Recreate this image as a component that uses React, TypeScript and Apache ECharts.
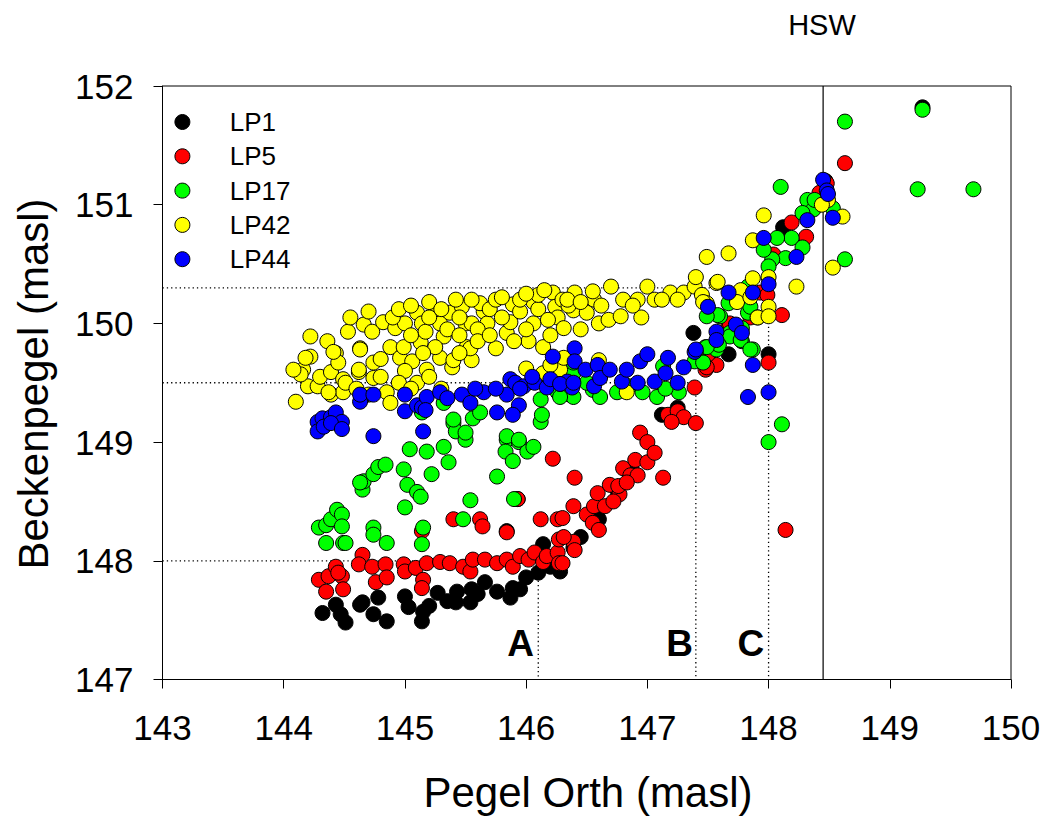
import React, { useEffect, useRef } from "react";
import * as echarts from "echarts";

const FONT = "'Liberation Sans', Arial, sans-serif";

const seriesNames = ["LP1", "LP5", "LP17", "LP42", "LP44"];
const seriesColors = ["#000000", "#ff0000", "#00ff00", "#ffff00", "#0000ff"];

const xTicks = { min: 143, max: 150, interval: 1 };
const yTicks = { min: 147, max: 152, interval: 1 };

const lp1: number[][] = [
  [144.32,147.56],[144.43,147.63],[144.51,147.48],[144.47,147.55],[144.63,147.63],[144.65,147.65],[144.74,147.55],[144.78,147.69],
  [144.85,147.49],[145.0,147.70],[145.03,147.61],[145.14,147.49],[145.15,147.57],[145.27,147.73],[145.35,147.66],[145.43,147.74],
  [145.42,147.65],[145.54,147.65],[145.55,147.76],[145.66,147.82],[145.76,147.74],[145.87,147.69],[145.89,147.77],[145.95,147.76],
  [146.0,147.86],[146.1,147.9],[146.14,148.14],[146.28,147.91],[146.39,148.11],[145.84,148.25],[145.93,148.52],[146.45,148.2],
  [146.6,148.35],[146.75,148.6],[146.88,148.75],[147.12,149.23],[147.25,149.29],[147.38,149.92],[147.67,149.74],[148.0,149.74],
  [148.12,150.81],[148.37,150.97],[148.47,151.2],[149.27,151.82],[145.2,147.62],[145.6,147.72],[146.2,147.95]
];

const lp5: number[][] = [
  [144.29,147.84],[144.35,147.74],[144.37,147.87],[144.43,147.95],[144.48,147.87],[144.49,147.76],[144.45,147.9],[144.65,148.05],
  [144.62,147.97],[144.73,147.95],[144.84,147.97],[144.76,147.82],[144.85,147.86],[144.99,147.97],[145.0,147.91],[145.09,147.94],
  [145.15,147.84],[145.14,147.77],[145.18,147.98],[145.29,147.99],[145.37,147.98],[145.48,147.95],[145.54,147.91],[145.56,148.01],
  [145.66,148.01],[145.76,147.98],[145.84,148.01],[145.89,147.95],[145.95,148.04],[146.02,148.01],[146.07,148.07],[146.14,147.99],
  [146.17,148.04],[146.26,148.07],[146.27,147.98],[146.27,148.18],[146.39,148.16],[146.4,148.09],[145.4,148.35],[145.62,148.35],
  [145.64,148.29],[145.84,148.24],[145.93,148.52],[146.12,148.35],[146.22,148.86],[146.26,148.35],[146.39,148.46],[146.4,148.7],
  [145.14,148.25],[146.5,148.39],[146.55,148.32],[146.6,148.26],[146.56,148.46],[146.59,148.57],[146.65,148.46],[146.69,148.64],
  [146.77,148.56],[146.76,148.63],[146.8,148.78],[146.86,148.72],[146.9,148.85],[146.92,148.72],[146.94,149.08],[147.0,149.0],
  [147.0,148.83],[147.06,148.91],[147.13,148.7],[146.3,148.36],[146.31,148.2],[146.3,147.98],[146.72,148.5],[146.83,148.66],
  [147.17,149.23],[147.25,149.26],[147.3,149.21],[147.2,149.17],[147.4,149.16],[148.14,148.26],
  [147.39,149.46],[147.48,149.61],[147.57,149.65],[147.5,149.74],[147.67,149.99],[148.0,149.67],[148.11,150.07],[147.93,150.26],
  [148.19,150.85],[148.31,150.73],[148.04,150.58],[147.85,150.05],[147.99,150.24],[147.68,150.0],[147.49,149.63],[148.63,151.35],
  [148.48,151.18],[148.42,151.1]
];

const lp17: number[][] = [
  [144.29,148.28],[144.35,148.3],[144.39,148.35],[144.44,148.43],[144.48,148.39],[144.48,148.29],[144.35,148.15],[144.49,148.15],
  [144.65,148.6],[144.66,148.67],[144.51,148.15],[144.63,148.66],[144.74,148.73],[144.78,148.79],[144.84,148.81],[144.74,148.28],
  [144.74,148.22],[144.85,148.15],[144.99,148.77],[145.02,148.64],[145.04,148.94],[145.1,148.58],[145.13,148.54],[145.0,148.45],
  [145.15,148.28],[145.14,148.14],[145.18,148.92],[145.22,148.73],[145.32,148.96],[145.36,148.83],[145.4,149.16],[145.42,149.09],
  [145.5,149.02],[145.54,148.51],[145.48,148.35],[145.76,148.71],[145.84,149.02],[145.83,148.92],[145.89,148.84],[145.94,149.0],
  [146.01,148.92],[146.06,148.96],[145.9,148.52],[146.12,149.17],
  [145.4,149.19],[145.5,149.08],[145.56,149.2],[145.62,149.25],[145.84,149.05],[145.94,149.02],[146.13,149.23],[145.32,149.33],
  [145.14,149.25],[146.12,149.36],[146.26,149.42],[146.36,149.4],[146.39,149.58],[146.39,149.67],
  [146.39,149.38],[146.55,149.44],[146.61,149.38],[146.75,149.42],[146.96,149.42],[147.08,149.38],[147.26,149.42],[147.13,149.64],
  [147.39,149.68],[147.48,149.8],[147.57,149.78],[147.6,150.06],[147.68,149.92],[147.78,149.85],[147.87,149.78],[147.83,150.09],
  [148.11,149.15],[148.0,149.0],[146.28,149.38],[146.5,149.5],[146.85,149.47],[147.15,149.45],
  [148.1,151.15],[148.32,151.04],[148.37,150.96],[148.28,150.93],[148.19,150.72],[148.07,150.72],[148.28,150.64],[148.14,150.55],
  [148.03,150.54],[148.0,150.48],[147.96,150.62],[147.83,150.31],[147.67,150.17],[147.58,150.07],[147.49,150.06],[147.85,150.14],
  [147.91,150.05],[147.78,149.96],[147.68,149.89],[147.77,149.86],[147.85,149.78],[147.59,149.82],[147.49,149.8],[147.4,149.76],
  [147.46,149.67],[148.63,151.7],[149.27,151.8],[149.23,151.13],[149.69,151.13],[148.63,150.54],[148.53,150.97],[148.38,151.04]
];

const lp42: number[][] = [
  [144.22,149.89],[144.36,149.85],[144.22,149.72],[144.16,149.61],[144.2,149.47],[144.28,149.47],[144.3,149.55],[144.39,149.59],
  [144.39,149.4],[144.43,149.75],[144.45,149.67],[144.49,149.53],[144.49,149.42],[144.1,149.34],[144.53,149.93],[144.62,149.59],
  [144.63,149.79],[144.66,149.99],[144.14,149.57],[144.08,149.61],[144.18,149.71],
  [144.41,149.76],[144.37,149.42],[144.51,149.5],[144.63,149.78],[144.62,149.61],[144.74,149.67],[144.74,149.54],[144.73,149.93],
  [144.82,150.01],[144.88,149.8],[144.85,149.42],[144.88,149.33],[144.92,149.96],[144.96,149.71],[144.99,149.8],[145.0,150.0],
  [145.06,149.68],[145.1,150.09],[145.13,149.84],[145.14,150.0],[145.17,149.93],[145.18,149.61],[145.1,149.5],[145.25,150.09],
  [145.29,149.71],[145.32,149.89],[145.29,150.0],[145.37,150.09],[145.39,149.63],[145.4,149.69],[145.5,150.0],[145.47,150.14],
  [145.51,149.8],[145.55,149.69],[145.54,149.79],[145.55,150.0],[145.65,150.1],[145.68,150.0],[145.62,150.17],[145.75,149.79],
  [145.84,149.92],[145.89,150.16],[145.87,150.01],[146.02,149.85],[146.06,150.0],[146.06,150.18],[146.14,149.8],[146.22,150.26],
  [146.24,150.14],[146.26,150.05],[146.39,150.11],[146.4,150.26],[146.31,149.96],[146.28,149.61],[146.14,149.58],
  [144.9,150.05],[145.05,149.9],[145.2,150.05],[145.35,149.95],[145.45,149.9],[145.6,149.95],[145.7,150.12],[145.8,150.05],
  [145.95,150.1],[146.0,149.95],[146.1,150.12],[146.18,150.03],[146.3,150.2],[145.75,150.2],[145.95,150.2],[146.1,150.24],
  [145.25,149.8],[145.0,149.6],[144.8,149.7],[144.95,149.5],[145.45,150.05],[145.6,149.85],[146.35,150.15],
  [144.55,150.05],[144.7,150.1],[144.95,150.12],[145.05,150.15],[145.2,150.18],[145.3,150.12],[145.42,150.2],[145.55,150.2],
  [145.8,150.22],[146.0,150.25],[146.15,150.28],[144.6,149.45],[144.7,149.4],[144.8,149.55],[145.05,149.45],[145.2,149.55],
  [145.3,149.45],[145.15,149.75],[145.45,149.75],[145.7,149.9],[145.9,149.85],[146.2,149.9],[146.45,149.95],[146.2,149.65],
  [146.0,149.62],[146.6,150.0],[146.95,150.05],
  [146.34,150.2],[146.5,150.09],[146.56,150.2],[146.68,150.03],[146.7,150.31],[146.78,150.06],[146.8,150.2],[146.92,150.2],
  [147.0,150.31],[147.06,150.2],[147.19,150.26],[147.3,150.26],[147.39,150.31],[147.45,150.24],[147.49,150.17],[147.57,150.34],
  [147.74,150.2],[147.91,150.05],[148.0,150.14],[148.0,150.06],[148.23,150.31],[146.83,149.42],[146.6,149.69],[146.31,149.71],
  [146.28,149.49],[146.62,150.15],[146.88,150.15],[147.12,150.2],[147.25,150.2],[146.45,150.18],[146.55,150.27],
  [147.96,150.91],[147.87,150.7],[147.49,150.56],[147.67,150.59],[147.87,150.38],[148.0,150.39],[147.4,150.39],[147.58,150.35],
  [147.77,150.28],[147.74,150.18],[147.85,150.22],[148.53,150.47],[148.49,151.04],[147.46,150.18],[148.61,150.9],[148.44,151.0]
];

const lp44: number[][] = [
  [144.28,149.17],[144.32,149.2],[144.39,149.21],[144.43,149.25],[144.48,149.17],[144.65,149.38],[144.63,149.34],[144.74,149.05],
  [144.28,149.09],[144.33,149.13],[144.39,149.16],[144.48,149.11],[144.63,149.4],[144.74,149.4],[145.0,149.4],[145.0,149.26],
  [145.1,149.31],[145.14,149.29],[145.18,149.38],[145.17,149.27],[145.15,149.09],[145.29,149.42],[145.35,149.37],[145.47,149.4],
  [145.54,149.33],[145.65,149.42],[145.76,149.25],[145.84,149.4],[145.87,149.53],[145.91,149.5],[145.94,149.31],[145.89,149.23],
  [145.98,149.47],[146.07,149.5],[146.17,149.46],[146.2,149.53],[146.34,149.51],[146.38,149.46],[146.22,149.72],[146.4,149.79],
  [146.4,149.68],[146.28,149.49],[146.39,149.5],[146.49,149.61],[146.56,149.47],[146.59,149.65],[146.61,149.54],[146.69,149.61],
  [146.79,149.51],[146.83,149.61],[146.92,149.5],[146.94,149.68],[147.0,149.74],[147.06,149.51],[147.17,149.71],[147.15,149.58],
  [147.25,149.5],[147.3,149.63],[147.39,149.76],[147.57,149.93],[147.57,149.86],[147.5,150.14],[147.67,150.26],[147.73,149.99],
  [147.78,149.92],[147.87,150.26],[148.0,150.33],[147.87,149.65],[147.83,149.38],[148.0,149.42],
  [148.45,151.21],[148.48,151.12],[148.49,151.09],[148.53,150.89],[148.32,150.87],[147.96,150.72],[148.23,150.56],[147.4,149.78],
  [146.05,149.55],[145.95,149.45],[145.75,149.45],[145.58,149.45]
];

const seriesData = [lp1, lp5, lp17, lp42, lp44];

// dotted guide lines (A, B, C) and HSW line
const guideA: number[][] = [[143, 148.0], [146.1, 148.0], [146.1, 147]];
const guideB: number[][] = [[143, 149.5], [147.4, 149.5], [147.4, 147]];
const guideC: number[][] = [[143, 150.3], [148.0, 150.3], [148.0, 147]];
const hswLine: number[][] = [[148.45, 147], [148.45, 152]];

const markerLabels = ["A", "B", "C"];
const markerPositions: number[][] = [[145.955, 147.3], [147.266, 147.3], [147.854, 147.3]];

export default function App() {
  const ref = useRef<HTMLDivElement>(null);

  useEffect(() => {
    if (!ref.current) return;
    const chart = echarts.init(ref.current, undefined, { renderer: "svg" });

    const guideSeries = [guideA, guideB, guideC].map((g) => ({
      type: "line",
      data: g,
      symbol: "none",
      silent: true,
      lineStyle: { color: "#000", width: 1.3, type: [1.3, 3] },
      z: 1,
    }));

    const scatterSeries = seriesNames.map((name, i) => ({
      name,
      type: "scatter",
      data: seriesData[i],
      symbol: "circle",
      symbolSize: 15,
      itemStyle: {
        color: seriesColors[i],
        borderColor: "#000",
        borderWidth: 1,
        opacity: 1,
      },
      z: 3,
    }));

    const option: any = {
      animation: false,
      backgroundColor: "#fff",
      grid: {
        left: 162.5,
        right: 35,
        top: 86,
        bottom: 138.5,
        show: true,
        borderColor: "#000",
        borderWidth: 1,
        containLabel: false,
      },
      legend: {
        data: seriesNames.map((n, i) => ({ name: n, itemStyle: { color: seriesColors[i], borderColor: "#000", borderWidth: 1 } })),
        orient: "vertical",
        left: 169.4,
        top: 104,
        icon: "circle",
        itemWidth: 84.6,
        itemHeight: 15,
        itemGap: 8.3,
        textStyle: { fontSize: 26, fontFamily: FONT, color: "#000", lineHeight: 26 },
        selectedMode: false,
      },
      xAxis: {
        type: "value",
        min: xTicks.min,
        max: xTicks.max,
        interval: xTicks.interval,
        splitLine: { show: false },
        axisLine: { show: true, onZero: false, lineStyle: { color: "#000", width: 1 } },
        axisTick: { show: true, inside: false, length: 9, lineStyle: { color: "#000" } },
        axisLabel: { fontSize: 35, fontFamily: FONT, color: "#000", margin: 30 },
      },
      yAxis: {
        type: "value",
        min: yTicks.min,
        max: yTicks.max,
        interval: yTicks.interval,
        splitLine: { show: false },
        axisLine: { show: true, onZero: false, lineStyle: { color: "#000", width: 1 } },
        axisTick: { show: true, inside: false, length: 9, lineStyle: { color: "#000" } },
        axisLabel: { fontSize: 35, fontFamily: FONT, color: "#000", margin: 29 },
      },
      series: [
        ...guideSeries,
        {
          type: "line",
          data: hswLine,
          symbol: "none",
          silent: true,
          lineStyle: { color: "#000", width: 1.2, type: "solid" },
          z: 1,
        },
        ...scatterSeries,
        {
          type: "scatter",
          data: markerPositions.map((p, i) => ({ value: p, name: markerLabels[i] })),
          symbolSize: 1,
          itemStyle: { color: "rgba(0,0,0,0)", opacity: 1 },
          silent: true,
          label: {
            show: true,
            position: "inside",
            formatter: (p: any) => p.name,
            fontSize: 37,
            fontWeight: "bold",
            fontFamily: FONT,
            color: "#000",
            opacity: 1,
            textBorderWidth: 0,
          },
          z: 4,
        },
      ],
      graphic: [
        {
          type: "text",
          x: 588,
          y: 792,
          style: {
            text: "Pegel Orth (masl)",
            font: `42px ${FONT}`,
            fill: "#000",
            textAlign: "center",
            textVerticalAlign: "middle",
          },
        },
        {
          type: "text",
          x: 33,
          y: 384,
          rotation: Math.PI / 2,
          style: {
            text: "Beckenpegel (masl)",
            font: `42px ${FONT}`,
            fill: "#000",
            textAlign: "center",
            textVerticalAlign: "middle",
          },
        },
        {
          type: "text",
          x: 822,
          y: 25,
          style: {
            text: "HSW",
            font: `29px ${FONT}`,
            fill: "#000",
            textAlign: "center",
            textVerticalAlign: "middle",
          },
        },
      ],
    };

    chart.setOption(option);
    return () => chart.dispose();
  }, []);

  return (
    <div
      ref={ref}
      style={{ position: "absolute", left: 0, top: 0, width: 1046, height: 818 }}
    />
  );
}
